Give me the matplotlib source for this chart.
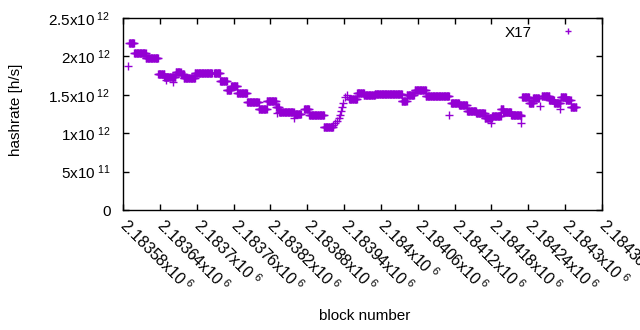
import numpy as np
import matplotlib.pyplot as plt
from matplotlib.ticker import FuncFormatter, MultipleLocator

plt.rcParams['font.family'] = ['Liberation Sans', 'DejaVu Sans']
plt.rcParams['mathtext.fontset'] = 'custom'
plt.rcParams['mathtext.rm'] = 'Liberation Sans'
plt.rcParams['mathtext.it'] = 'Liberation Sans'

# runs of blocks with the same hashrate estimate (first block, last block, value in 1e12 h/s)
seg_start = [2183590, 2183598, 2183617, 2183637, 2183647, 2183666, 2183674, 2183679,
             2183697, 2183728, 2183738, 2183749, 2183756, 2183766, 2183782, 2183801,
             2183814, 2183829, 2183834, 2183858, 2183875, 2183883, 2183907, 2183948,
             2183961, 2183972, 2183990, 2184034, 2184042, 2184055, 2184073, 2184114,
             2184127, 2184140, 2184155, 2184169, 2184181, 2184195, 2184199, 2184212,
             2184230, 2184241, 2184248, 2184262, 2184274, 2184282, 2184293, 2184301,
             2184309]
seg_end = [2183598, 2183617, 2183637, 2183647, 2183665, 2183674, 2183679, 2183697,
           2183725, 2183738, 2183749, 2183756, 2183766, 2183782, 2183801, 2183814,
           2183829, 2183834, 2183858, 2183870, 2183883, 2183907, 2183922, 2183961,
           2183972, 2183990, 2184034, 2184042, 2184054, 2184073, 2184111, 2184127,
           2184140, 2184155, 2184169, 2184181, 2184195, 2184199, 2184212, 2184228,
           2184241, 2184248, 2184257, 2184274, 2184282, 2184292, 2184301, 2184309,
           2184318]
seg_val = [2.174, 2.044, 1.973, 1.777, 1.738, 1.803, 1.771, 1.725,
           1.780, 1.790, 1.686, 1.562, 1.614, 1.523, 1.406, 1.315,
           1.419, 1.341, 1.282, 1.250, 1.315, 1.243, 1.081, 1.445,
           1.523, 1.493, 1.510, 1.419, 1.497, 1.558, 1.488, 1.393,
           1.361, 1.289, 1.269, 1.194, 1.230, 1.311, 1.272, 1.233,
           1.467, 1.389, 1.454, 1.488, 1.428, 1.389, 1.475, 1.428,
           1.337]

# single blocks off the runs
single_block = [2183588, 2183650, 2183661, 2183831, 2183858,
                2183922, 2183925, 2183928, 2183932, 2183933, 2183935, 2183937,
                2183938, 2183941, 2183945, 2184111, 2184179, 2184228, 2184228,
                2184259, 2184292]
single_val = [1.875, 1.693, 1.670, 1.263, 1.198,
              1.107, 1.133, 1.159, 1.198, 1.237, 1.289, 1.341,
              1.393, 1.471, 1.497, 1.237, 1.137, 1.224, 1.133,
              1.354, 1.315]

xs, ys = [], []
for a, b, v in zip(seg_start, seg_end, seg_val):
    blk = np.arange(a, b + 1)
    xs.extend(blk)
    ys.extend([v * 1e12] * len(blk))
xs.extend(single_block)
ys.extend([v * 1e12 for v in single_val])

fs = 11

fig = plt.figure(figsize=(6.4, 3.3), dpi=100)
ax = fig.add_axes([123 / 640, 1 - 210 / 330, (602 - 123) / 640, (210 - 18) / 330])
ax.plot(xs, ys, linestyle='none', marker='+', markersize=5.8, mew=1.0,
        color='#9400D3', label='X17')

ax.set_xlim(2183580, 2184360)
ax.set_ylim(0, 2.5e12)
ax.xaxis.set_major_locator(MultipleLocator(60))
ax.yaxis.set_major_locator(MultipleLocator(5e11))


def yfmt(v, pos):
    if abs(v) < 1:
        return '0'
    if v < 0:
        return ''
    e = int(np.floor(np.log10(v)))
    m = v / 10 ** e
    ms = ('%.1f' % m).rstrip('0').rstrip('.')
    return ms + r'x10$^{\ %d}$' % e


def xfmt(v, pos):
    m = v / 1e6
    ms = ('%.5f' % m).rstrip('0').rstrip('.')
    return ms + r'x10$^{\ 6}$'


ax.yaxis.set_major_formatter(FuncFormatter(yfmt))
ax.xaxis.set_major_formatter(FuncFormatter(xfmt))
ax.tick_params(direction='in', length=4, width=1, top=True, right=True,
               labelsize=fs, colors='black')
ax.tick_params(axis='y', pad=9)
ax.tick_params(axis='x', pad=9, labelsize=11.5)
for lbl in ax.get_xticklabels():
    lbl.set_rotation(-45)
    lbl.set_ha('left')
    lbl.set_va('center')
    lbl.set_rotation_mode('anchor')
for s in ax.spines.values():
    s.set_linewidth(1)

fig.text(16 / 640, 1 - 110 / 330, 'hashrate [h/s]', fontsize=fs, rotation=90,
         ha='center', va='center')
fig.text(365 / 640, 1 - 316 / 330, 'block number', fontsize=fs, ha='center', va='center')

ax.legend(loc='upper right', frameon=False, markerfirst=False, fontsize=fs,
          handlelength=1.5, borderaxespad=0, borderpad=0, handletextpad=1.6,
          markerscale=0.8, bbox_to_anchor=(0.953, 0.96))

fig.savefig('out.png', dpi=100)
